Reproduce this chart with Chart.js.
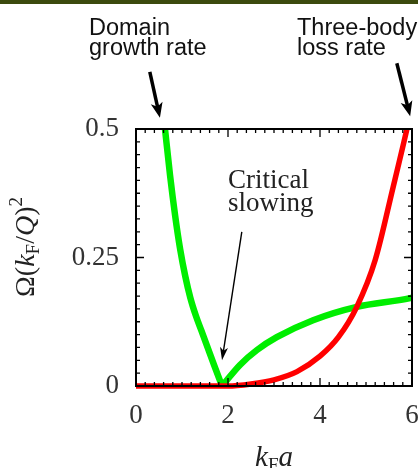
<!DOCTYPE html>
<html>
<head>
<meta charset="utf-8">
<script src="https://cdn.jsdelivr.net/npm/chart.js@4.4.0/dist/chart.umd.min.js"></script>
<style>
  html, body { margin: 0; padding: 0; background: #fff; }
  canvas { display: block; }
</style>
</head>
<body>
<canvas id="rateChart" width="418" height="468"></canvas>
<script>
// values (x = kF a, y = Omega (kF/Q)^2)
var lossX = [0, 1, 2, 2.5, 3.0, 3.5, 4.0, 4.4, 4.8, 5.2, 5.59, 5.89, 6.0];
var lossY = [0, 0, 0, 0.004, 0.012, 0.028, 0.058, 0.095, 0.154, 0.245, 0.387, 0.5, 0.545];

var growthLeftX = [0.55, 0.63, 0.74, 0.85, 0.96, 1.07, 1.18, 1.3, 1.42, 1.54, 1.7, 1.87];
var growthLeftY = [0.57, 0.5, 0.41, 0.332, 0.266, 0.214, 0.172, 0.137, 0.108, 0.079, 0.04, 0.0];
var growthRightX = [1.87, 2.26, 2.63, 3.06, 3.85, 4.8, 5.96, 6.0];
var growthRightY = [0.0, 0.041, 0.07, 0.095, 0.128, 0.154, 0.171, 0.172];

var xTicks = [0, 2, 4, 6];
var yTicks = [0, 0.25, 0.5];

var serif = '"Liberation Serif", "DejaVu Serif", serif';
var sans = '"Liberation Sans", Arial, sans-serif';

function pts(xs, ys) {
    return xs.map(function(x, i) { return { x: x, y: ys[i] }; });
}

function arrow(ctx, x1, y1, x2, y2, w, len, half) {
    var ang = Math.atan2(y2 - y1, x2 - x1);
    ctx.lineWidth = w;
    ctx.beginPath();
    ctx.moveTo(x1, y1);
    ctx.lineTo(x2 - Math.cos(ang) * len * 0.7, y2 - Math.sin(ang) * len * 0.7);
    ctx.stroke();
    ctx.beginPath();
    ctx.moveTo(x2, y2);
    ctx.lineTo(x2 - Math.cos(ang) * len + Math.sin(ang) * half, y2 - Math.sin(ang) * len - Math.cos(ang) * half);
    ctx.lineTo(x2 - Math.cos(ang) * len * 0.75, y2 - Math.sin(ang) * len * 0.75);
    ctx.lineTo(x2 - Math.cos(ang) * len - Math.sin(ang) * half, y2 - Math.sin(ang) * len + Math.cos(ang) * half);
    ctx.closePath();
    ctx.fill();
}

// pieces of text with sub/superscripts, centred on x
function rich(ctx, parts, cx, y) {
    var total = 0;
    parts.forEach(function(p) { ctx.font = p.font; p.w = ctx.measureText(p.t).width; total += p.w; });
    var x = cx - total / 2;
    ctx.textAlign = 'left';
    ctx.textBaseline = 'alphabetic';
    parts.forEach(function(p) { ctx.font = p.font; ctx.fillText(p.t, x, y + (p.dy || 0)); x += p.w; });
}

var decorations = {
    id: 'decorations',
    beforeDraw: function(chart) {
        var ctx = chart.ctx;
        ctx.save();
        ctx.fillStyle = '#3c4a0e';
        ctx.fillRect(0, 0, chart.width, 4);
        ctx.restore();
    },
    afterDraw: function(chart) {
        var ctx = chart.ctx, a = chart.chartArea;
        var xs = chart.scales.x, ys = chart.scales.y;
        ctx.save();
        ctx.strokeStyle = '#000';
        ctx.fillStyle = '#000';

        // inward ticks on all four sides
        ctx.lineWidth = 1.3;
        ctx.beginPath();
        for (var i = 0; i <= 30; i++) {
            var px = xs.getPixelForValue(i * 0.2);
            var l = (i % 10 === 0) ? 8 : 4;
            ctx.moveTo(px, a.bottom); ctx.lineTo(px, a.bottom - l);
            ctx.moveTo(px, a.top); ctx.lineTo(px, a.top + l);
        }
        for (var j = 0; j <= 20; j++) {
            var py = ys.getPixelForValue(j * 0.025);
            var m = (j % 10 === 0) ? 8 : 4;
            ctx.moveTo(a.left, py); ctx.lineTo(a.left + m, py);
            ctx.moveTo(a.right, py); ctx.lineTo(a.right - m, py);
        }
        ctx.stroke();

        ctx.lineWidth = 2;
        ctx.strokeRect(a.left, a.top, a.right - a.left, a.bottom - a.top);

        // axis titles
        ctx.fillStyle = '#222';
        rich(ctx, [
            { t: 'k', font: 'italic 29px ' + serif },
            { t: 'F', font: '19px ' + serif, dy: 5 },
            { t: 'a', font: 'italic 29px ' + serif }
        ], (a.left + a.right) / 2, 466);

        ctx.save();
        ctx.translate(34, 247);
        ctx.rotate(-Math.PI / 2);
        rich(ctx, [
            { t: 'Ω(', font: '28px ' + serif },
            { t: 'k', font: 'italic 28px ' + serif },
            { t: 'F', font: '19px ' + serif, dy: 5 },
            { t: '/', font: '28px ' + serif },
            { t: 'Q', font: 'italic 28px ' + serif },
            { t: ')', font: '28px ' + serif },
            { t: '2', font: '19px ' + serif, dy: -12 }
        ], 0, 0);
        ctx.restore();

        // annotations
        ctx.fillStyle = '#111';
        ctx.textAlign = 'left';
        ctx.font = '23.5px ' + sans;
        ctx.fillText('Domain', 89, 35);
        ctx.fillText('growth rate', 89, 55);
        ctx.fillText('Three-body', 297, 35);
        ctx.fillText('loss rate', 297, 55);

        ctx.font = '27px ' + serif;
        ctx.fillStyle = '#222';
        ctx.fillText('Critical', xs.getPixelForValue(2.0), ys.getPixelForValue(0.386));
        ctx.fillText('slowing', xs.getPixelForValue(2.0), ys.getPixelForValue(0.341));

        ctx.fillStyle = '#000';
        ctx.strokeStyle = '#000';
        arrow(ctx, xs.getPixelForValue(0.30), ys.getPixelForValue(0.611),
                   xs.getPixelForValue(0.52), ys.getPixelForValue(0.522), 3.5, 15, 6);
        arrow(ctx, xs.getPixelForValue(5.67), ys.getPixelForValue(0.628),
                   xs.getPixelForValue(5.96), ys.getPixelForValue(0.525), 3.5, 15, 6);
        arrow(ctx, xs.getPixelForValue(2.30), ys.getPixelForValue(0.30),
                   xs.getPixelForValue(1.87), ys.getPixelForValue(0.05), 1.4, 13, 4);
        ctx.restore();
    }
};

new Chart(document.getElementById('rateChart'), {
    type: 'scatter',
    data: {
        datasets: [
            {
                label: 'Three-body loss rate',
                data: pts(lossX, lossY),
                borderColor: '#ff0000',
                borderWidth: 5.5,
                order: 0
            },
            {
                label: 'Domain growth rate',
                data: pts(growthLeftX, growthLeftY),
                borderColor: '#00ee00',
                borderWidth: 6.5,
                order: 1
            },
            {
                label: 'Domain growth rate (right)',
                data: pts(growthRightX, growthRightY),
                borderColor: '#00ee00',
                borderWidth: 6.5,
                order: 1
            }
        ]
    },
    options: {
        responsive: false,
        animation: false,
        showLine: true,
        layout: { padding: { top: 129, right: 6, left: 0, bottom: 0 } },
        elements: {
            point: { radius: 0, hoverRadius: 0 },
            line: { cubicInterpolationMode: 'monotone', borderCapStyle: 'butt', borderJoinStyle: 'round' }
        },
        datasets: {
            scatter: { clip: { left: 0, top: 0, right: 0, bottom: 4 } }
        },
        plugins: {
            legend: { display: false },
            tooltip: { enabled: false }
        },
        scales: {
            x: {
                type: 'linear',
                min: 0,
                max: 6,
                grid: { display: false, drawTicks: false },
                border: { display: false },
                afterBuildTicks: function(s) { s.ticks = xTicks.map(function(v) { return { value: v }; }); },
                afterFit: function(s) { s.height = 82; s.paddingLeft = 0; s.paddingRight = 0; },
                ticks: {
                    padding: 14, color: '#333', font: { family: serif, size: 27 }, maxRotation: 0,
                    callback: function(v) { return String(v); }
                }
            },
            y: {
                min: 0,
                max: 0.5,
                grid: { display: false, drawTicks: false },
                border: { display: false },
                afterBuildTicks: function(s) { s.ticks = yTicks.map(function(v) { return { value: v }; }); },
                afterFit: function(s) { s.width = 136; s.paddingTop = 0; s.paddingBottom = 0; },
                ticks: {
                    padding: 17, color: '#333', font: { family: serif, size: 27 },
                    callback: function(v) { return String(v); }
                }
            }
        }
    },
    plugins: [decorations]
});
</script>
</body>
</html>
